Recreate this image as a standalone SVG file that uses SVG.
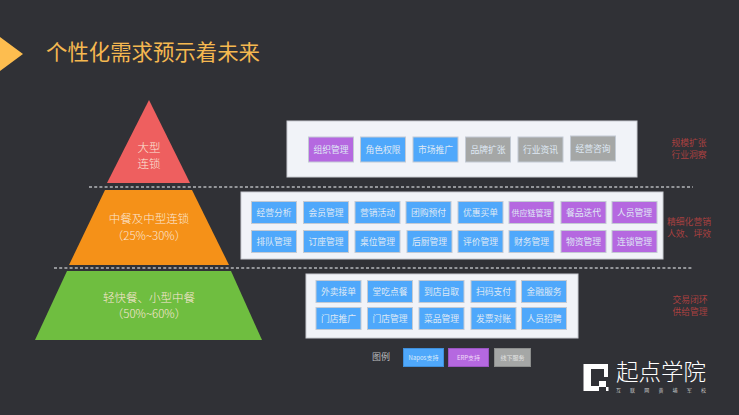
<svg xmlns="http://www.w3.org/2000/svg" width="739" height="415" viewBox="0 0 739 415">
<style>
text{font-family:"Noto Sans CJK SC","Noto Sans",sans-serif;text-anchor:middle;font-weight:400}
.panel{fill:#f1f3f8;stroke:#c9ccd2;stroke-width:1}
.b{stroke:#c3cad4;stroke-width:1}
.blue{fill:#4fa8fb}.purple{fill:#b568e0}.gray{fill:#a5a7a6}
.bt{font-size:8.8px;fill:#dfe9f5}
.py{font-size:11.5px;fill:#fbe6d6;font-weight:300}
.note{font-size:8.8px;fill:#a84040}
.sep{stroke:#b4b6ba;stroke-width:1.5;stroke-dasharray:3 2.2;fill:none}
</style>
<rect width="739" height="415" fill="#303136"/>
<polygon points="0,37 23,54 0,71" fill="#fdbd4f"/>
<text x="153" y="60" style="font-size:21.4px;fill:#f5b850">个性化需求预示着未来</text>

<g id="connectors">
<path class="sep" d="M89 187H693"/>
<path class="sep" d="M54 268H692"/>
</g>

<g id="tier-large">
<polygon points="149,100 190,183 107,183" fill="#ee5f5f"/>
<text class="py" x="149" y="152">大型</text>
<text class="py" x="149" y="168">连锁</text>
</g>
<g id="tier-middle">
<polygon points="105,190 192,190 229,265 69,265" fill="#f59118"/>
<text class="py" x="149" y="223">中餐及中型连锁</text>
<text class="py" x="149" y="240">（25%~30%）</text>
</g>
<g id="tier-small">
<polygon points="67,271 231,271 262,340 35,340" fill="#6fbe40"/>
<text class="py" x="149" y="302">轻快餐、小型中餐</text>
<text class="py" x="149" y="318">（50%~60%）</text>
</g>

<g id="panel-large">
<rect class="panel" x="287" y="121" width="350" height="56"/>
<g id="n-org"><rect class="b purple" x="308.500" y="137" width="45" height="25"/><text class="bt" x="331" y="152.500">组织管理</text></g>
<g id="n-role"><rect class="b blue" x="360.500" y="137" width="45" height="25"/><text class="bt" x="383" y="152.500">角色权限</text></g>
<g id="n-market"><rect class="b blue" x="413" y="137" width="45" height="25"/><text class="bt" x="435.500" y="152.500">市场推广</text></g>
<g id="n-brand"><rect class="b gray" x="465.500" y="137" width="45" height="25"/><text class="bt" x="488" y="152.500">品牌扩张</text></g>
<g id="n-news"><rect class="b gray" x="518" y="137" width="45" height="25"/><text class="bt" x="540.500" y="152.500">行业资讯</text></g>
<g id="n-consult"><rect class="b gray" x="570.500" y="136" width="45" height="25"/><text class="bt" x="593" y="151.500">经营咨询</text></g>
</g>

<g id="panel-middle">
<rect class="panel" x="241" y="192" width="422" height="67"/>
<g id="m1"><rect class="b blue" x="251.500" y="201.500" width="45" height="22"/><text class="bt" x="274" y="215.500">经营分析</text></g>
<g id="m2"><rect class="b blue" x="303.500" y="201.500" width="45" height="22"/><text class="bt" x="326" y="215.500">会员管理</text></g>
<g id="m3"><rect class="b blue" x="355" y="201.500" width="45" height="22"/><text class="bt" x="377.500" y="215.500">营销活动</text></g>
<g id="m4"><rect class="b blue" x="406" y="201.500" width="45" height="22"/><text class="bt" x="428.500" y="215.500">团购预付</text></g>
<g id="m5"><rect class="b blue" x="458" y="201.500" width="45" height="22"/><text class="bt" x="480.500" y="215.500">优惠买单</text></g>
<g id="m6"><rect class="b purple" x="509" y="201.500" width="45" height="22"/><text class="bt" x="531.500" y="215.500" style="font-size:8px">供应链管理</text></g>
<g id="m7"><rect class="b purple" x="561" y="201.500" width="45" height="22"/><text class="bt" x="583.500" y="215.500">餐品迭代</text></g>
<g id="m8"><rect class="b purple" x="612" y="201.500" width="45" height="22"/><text class="bt" x="634.500" y="215.500">人员管理</text></g>
<g id="m9"><rect class="b blue" x="251.500" y="230.500" width="45" height="22"/><text class="bt" x="274" y="244.500">排队管理</text></g>
<g id="m10"><rect class="b blue" x="303.500" y="230.500" width="45" height="22"/><text class="bt" x="326" y="244.500">订座管理</text></g>
<g id="m11"><rect class="b blue" x="355" y="230.500" width="45" height="22"/><text class="bt" x="377.500" y="244.500">桌位管理</text></g>
<g id="m12"><rect class="b blue" x="407" y="230.500" width="45" height="22"/><text class="bt" x="429.500" y="244.500">后厨管理</text></g>
<g id="m13"><rect class="b blue" x="458" y="230.500" width="45" height="22"/><text class="bt" x="480.500" y="244.500">评价管理</text></g>
<g id="m14"><rect class="b blue" x="509" y="230.500" width="45" height="22"/><text class="bt" x="531.500" y="244.500">财务管理</text></g>
<g id="m15"><rect class="b purple" x="561" y="230.500" width="45" height="22"/><text class="bt" x="583.500" y="244.500">物资管理</text></g>
<g id="m16"><rect class="b purple" x="612" y="230.500" width="45" height="22"/><text class="bt" x="634.500" y="244.500">连锁管理</text></g>
</g>

<g id="panel-small">
<rect class="panel" x="306" y="274" width="272" height="64"/>
<g id="s1"><rect class="b blue" x="316" y="280.500" width="45" height="22"/><text class="bt" x="338.500" y="294.500">外卖接单</text></g>
<g id="s2"><rect class="b blue" x="367.500" y="280.500" width="45" height="22"/><text class="bt" x="390" y="294.500">堂吃点餐</text></g>
<g id="s3"><rect class="b blue" x="419" y="280.500" width="45" height="22"/><text class="bt" x="441.500" y="294.500">到店自取</text></g>
<g id="s4"><rect class="b blue" x="471" y="280.500" width="45" height="22"/><text class="bt" x="493.500" y="294.500">扫码支付</text></g>
<g id="s5"><rect class="b blue" x="521.500" y="280.500" width="45" height="22"/><text class="bt" x="544" y="294.500">金融服务</text></g>
<g id="s6"><rect class="b blue" x="316" y="307.500" width="45" height="22"/><text class="bt" x="338.500" y="321.500">门店推广</text></g>
<g id="s7"><rect class="b blue" x="367.500" y="307.500" width="45" height="22"/><text class="bt" x="390" y="321.500">门店管理</text></g>
<g id="s8"><rect class="b blue" x="419" y="307.500" width="45" height="22"/><text class="bt" x="441.500" y="321.500">菜品管理</text></g>
<g id="s9"><rect class="b blue" x="471" y="307.500" width="45" height="22"/><text class="bt" x="493.500" y="321.500">发票对账</text></g>
<g id="s10"><rect class="b blue" x="521.500" y="307.500" width="45" height="22"/><text class="bt" x="544" y="321.500">人员招聘</text></g>
</g>

<g id="notes">
<text class="note" x="689" y="146">规模扩张</text>
<text class="note" x="689" y="158">行业洞察</text>
<text class="note" x="689" y="225">精细化营销</text>
<text class="note" x="689" y="237">人效、坪效</text>
<text class="note" x="690" y="303">交易闭环</text>
<text class="note" x="690" y="315">供给管理</text>
</g>

<g id="legend">
<text x="381" y="360" style="font-size:9px;fill:#b9babc">图例</text>
<rect class="blue" x="403.500" y="348.500" width="40" height="18" stroke="#3f8fdb"/>
<text x="423.500" y="359.500" style="font-size:6px;fill:#dbeafa">Napos支持</text>
<rect class="purple" x="448.500" y="348.500" width="40" height="18" stroke="#9a55c2"/>
<text x="468.500" y="359.500" style="font-size:6px;fill:#efdcf8">ERP支持</text>
<rect class="gray" x="494.500" y="348.500" width="36" height="18" stroke="#8c8e8d"/>
<text x="512.500" y="359.500" style="font-size:6px;fill:#e4e4e4">线下服务</text>
</g>

<g id="brand">
<path d="M583.500 364H608V377H604V369H591V386H599V391H583.500Z" fill="#fff"/>
<rect x="599" y="381" width="7" height="6" fill="#fff"/>
<rect x="606" y="387" width="2.500" height="4" fill="#fff"/>
<text x="661" y="380" style="font-size:22.500px;fill:#fff;font-weight:300">起点学院</text>
<text x="665.500" y="391.500" style="font-size:5px;fill:#c9c9c9;letter-spacing:9.170px">互联网黄埔军校</text>
</g>
</svg>
